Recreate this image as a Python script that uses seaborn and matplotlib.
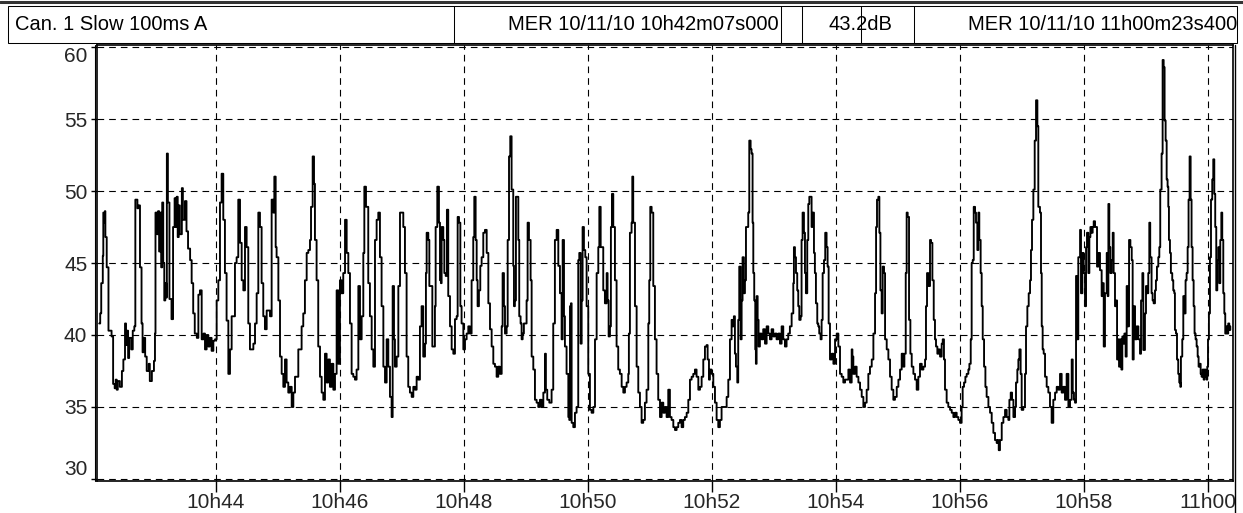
import numpy as np
import pandas as pd
import matplotlib
matplotlib.use("Agg")
import matplotlib.pyplot as plt
import seaborn as sns
from matplotlib import font_manager as fm
from matplotlib.patches import Rectangle

# ---------------- data (seconds since 10h42m00s, level in dB(A)) ----------------
t_sec = [
    7, 8, 9, 10.5, 11, 12, 12.5, 13, 14.3, 16, 19, 20.5, 22, 23, 24, 25, 27, 29, 30.4, 32, 33, 34, 35, 36, 38, 39.5, 41,
    42, 44, 45, 46.5, 48, 49, 50, 51.5, 53, 55, 56, 58, 60, 61, 61.5, 63, 64, 65, 66, 67, 68, 69, 70, 71, 72, 72.5, 73.5,
    75, 77, 78.5, 80, 81, 82, 83, 84, 85, 87, 88, 90, 91.5, 93, 95, 96.5, 98, 99.5,
    101.5, 103, 104.5, 106.2, 108, 109.4, 111, 112.6, 114, 115.8, 117.5, 119.1, 120.7, 122.3, 123.9, 125.5, 127.1, 128.7,
    130.3, 132, 133.6, 135.2, 138.4, 140, 141.6, 143.3, 144.9, 146.5, 148.1, 149.7, 151.3, 152.9, 156.2, 157.8, 159.4, 161,
    162.6, 164.2, 165.8, 167.4, 169.1, 172.3, 173.9, 175.5, 176.5, 177.8, 178.7, 180.4, 182, 183.6, 185.2, 186.8, 188.4,
    190, 191.6, 193.3, 194.9, 196.5, 199.7,
    202.9, 204.5, 206.1, 207.8, 209.4, 211, 212, 213.6, 214.9, 215.8, 217.4, 219, 220.7, 222.3, 223.9, 225.5, 227.1, 228.7,
    230.3, 232, 233.6, 235.2, 236.8, 238.4, 240, 241.6, 243.2, 244.9, 246.5, 248.1, 249.7, 251.3, 252.9, 254.5, 256.1,
    257.8, 259.4, 261, 262.6, 263.6, 265.2, 267.4, 269, 270.7, 272.3, 273.9, 275.5, 277.1, 278.7, 280.3, 282, 283.6, 285.2,
    286.8, 288.4, 290, 291, 292.3, 293.2, 294.9, 296.5, 298.1, 299.7, 301.3, 302.9, 304.5, 306.1,
    307.7, 309.4, 311, 312.6, 314.2, 315.8, 317.4, 319, 320.6, 322.3, 323.2, 323.9, 325.5, 326.5, 328.1, 329.4, 331.3,
    331.9, 332.6, 334.2, 335.8, 336.8, 337.7, 338.4, 340, 341, 342.3, 343.5, 344.8, 346.5, 348.1, 349.7, 351.3, 352.9,
    353.9, 355.2, 356.5, 357.7, 359.4, 361, 362.6, 364.2, 365.8, 367.4, 369, 370, 371.3, 372.3, 373.2, 374.5, 375.8, 377.1,
    378.7, 380.3, 382, 383.6, 385.2, 386.8, 388.4, 390, 391.6, 393.2, 394.8, 396.5, 397.4, 398.7, 399.7, 401.3, 402.3,
    403.6, 404.8, 406.1, 407.7,
    408.4, 409.3, 410.3, 411.6, 412.6, 413.5, 414.8, 415.8, 416.8, 418, 419, 420.6, 421.6, 422.9, 424.5, 425.5, 427.1,
    428.7, 430.3, 431.9, 433.5, 435.1, 436.8, 438.4, 439.3, 440.6, 442.6, 444.8, 446.4, 448, 449.7, 451.3, 452.9, 454.5,
    455.5, 456.8, 457.7, 459.3, 461, 461.9, 462.6, 463.5, 464.2, 465.8, 467.4, 469, 470.6, 471.6, 472.9, 473.9, 474.8,
    476.1, 477.4, 478.7, 480.3, 481.9, 483.5, 485.2, 486.8, 488.4, 490, 491, 492.3, 493.2, 494.8, 496.4, 498.1, 499, 500,
    501.3, 502.2, 503.2, 504.5, 506.1, 507.7, 509.3,
    510.9, 512.6, 514.2, 515.8, 517.4, 519, 519.6, 520.6, 522.2, 522.9, 523.8, 525.5, 527.1, 528.7, 530.3, 531.9, 533.5,
    535.1, 536.7, 538.4, 539.3, 540.3, 541.6, 543.2, 544.8, 546.4, 548, 549.7, 551.3, 552.9, 554.5, 556.1, 557.7, 559.3,
    560.9, 562.6, 564.2, 565.8, 567.4, 569, 570.6, 572.2, 573.8, 575.5, 577.1, 578.7, 580.3, 581.9, 583.5, 585.1, 586.8,
    588.4, 590, 591.6, 593.2, 594.8, 595.8, 597.1, 598, 599.7, 601.3, 602.9, 604.5, 606.1, 607.7, 609.3,
    612.5, 614.2, 615.8, 617.4, 619, 620, 621.2, 622.2, 623.2, 624.5, 625.4, 626.4, 627.7, 628.7, 629.6, 630.9, 631.9,
    632.9, 634.2, 635.1, 636.1, 637.4, 638.3, 639.3, 640, 640.9, 641.9, 642.5, 643.2, 644.2, 645.1, 646.4, 648, 649.6,
    651.3, 652.9, 654.5, 656.1, 657.7, 659.3, 660.9, 662.5, 664.2, 665.8, 667.4, 669, 670.6, 672.2, 673.8, 675.4, 677.1,
    678.7, 679.3, 680.3, 681.3, 682.5, 683.5, 684.5, 685.8, 686.7, 687.7, 689, 690, 690.9, 692.2, 693.2, 694.2, 695.4,
    696.4, 697.4, 698.7, 699.6, 700.6, 701.9, 702.9, 703.8, 705.1, 706.1, 707.1, 708.4, 709.6, 710.9, 711.9, 712.9,
    714.2, 715.9, 717.5, 719.1, 720.7, 722.3, 723.9, 725.5, 727.1, 728.8, 730.4, 732, 733.6, 735.2, 735.9, 736.8, 738.4,
    740, 741.7, 743.3, 744.9, 746.5, 748.1, 749.7, 751.3, 752.9, 754.6, 756.2, 757.8, 758.8, 759.7, 761, 762, 763, 764.2,
    765.2, 766.5, 767.5, 769.1, 770.7, 772.3, 773.9, 775.5, 777.1, 778.8, 780.4, 782, 783.6, 785.2, 786.2, 787.5, 788.4,
    789.4, 790.7, 792, 793.3, 794.9, 796.5, 798.1, 799.7, 801.3, 803, 804.6, 806.2, 807.1, 808.1, 809.4, 811, 812, 813.3,
    814.6,
    815.8, 816.8, 818.1, 819.4, 820.7, 822.3, 823.3, 824.5, 825.5, 827.1, 828.7, 830.4, 832, 833.6, 835.2, 836.8, 838.4,
    840, 841.6, 842.6, 843.9, 845.2, 846.5, 848.1, 849.1, 850.4, 851.3, 852.3, 853.3, 854.6, 855.5, 856.8, 857.8, 858.7,
    860, 861, 862, 863.3, 864.6, 865.8, 867.5, 869.1, 870.7, 872.3, 873.9, 875.5, 876.5, 877.5, 878.7, 880.4, 882, 883.6,
    885.2, 886.8, 887.8, 889.1, 890.4, 891.7, 893.3, 894.2, 895.5, 896.5, 897.5, 898.7, 899.7, 901.3, 902.9, 903.9, 905.2,
    906.5, 907.8, 908.7, 909.7, 911, 912.3, 913.6, 914.9, 915.8,
    917.4, 918.4, 919.1, 920, 921, 922.3, 923.9, 925.5, 927.1, 928.7, 930.3, 932, 933.6, 935.2, 936.8, 938.4, 940, 941.6,
    943.2, 944.9, 946.5, 948.1, 949.1, 950.3, 951.3, 952.3, 953.2, 954.5, 956.2, 957.1, 958.4, 959.7, 961, 962, 962.9,
    964.2, 965.2, 966.2, 967.4, 968.4, 969.4, 970.7, 971.6, 972.6, 973.9, 975.5, 977.1, 978.1, 979.1, 980.3, 982, 982.9,
    983.6, 984.5, 985.5, 986.8, 987.8, 988.7, 990, 991, 992, 992.9, 993.9, 995.2, 996.2, 997.1, 998.1, 999.1, 1000.3,
    1001.3, 1002.3, 1003.6, 1004.9, 1006.2, 1007.1, 1008.1, 1009.4, 1011, 1012.6, 1014.2, 1015.2, 1016.5, 1017.4,
    1019, 1020, 1020.9, 1022.2, 1023.2, 1024.1, 1025.4, 1026.4, 1027.4, 1028.7, 1029.6, 1030.6, 1031.9, 1032.9, 1033.8,
    1035.1, 1036.1, 1037.1, 1038, 1039, 1040, 1040.9, 1041.6, 1042.2, 1043.2, 1044.1, 1045.4, 1046.4, 1047.4, 1048, 1049,
    1050, 1051.2, 1052.2, 1053.2, 1053.8, 1055.1, 1056.1, 1057, 1058.3, 1059.3, 1060.3, 1061.2, 1062.2, 1063.2, 1064.1,
    1065.1, 1066.1, 1067, 1068, 1069, 1070, 1070.9, 1071.9, 1072.9, 1073.8, 1074.8, 1075.8, 1076.7, 1077.7, 1078.7,
    1079.3, 1080, 1080.9, 1081.9, 1082.9, 1084.1, 1085.1, 1086.1, 1087, 1088, 1089, 1090, 1090.9, 1091.9, 1092.9, 1093.8,
    1094.8, 1095.8, 1096.7, 1097.7, 1098.7, 1099.6, 1100.6, 1101.6,
]
level_db = [
    40.8, 41.5, 43.6, 45.5, 48.5, 47.8, 48.6, 46.8, 44.7, 40.3, 39.9, 36.6, 36.3, 36.9, 36.2, 36.8, 36.4, 37.5, 38.3, 40.8,
    39.3, 40.3, 38.4, 39.8, 39.0, 40.3, 40.6, 49.4, 48.8, 49.0, 44.7, 40.8, 38.8, 39.8, 38.5, 37.5, 38.0, 36.8, 37.5, 38.2,
    40.1, 48.5, 47.0, 48.6, 45.8, 48.5, 44.7, 49.2, 45.0, 42.4, 43.6, 42.6, 52.6, 49.2, 42.5, 41.1, 47.5, 49.5, 47.5, 49.6,
    46.8, 49.0, 47.0, 50.2, 48.0, 49.3, 47.2, 46.0, 45.2, 43.6, 41.5, 40.1,
    39.8, 42.8, 43.1, 39.7, 40.1, 39.0, 40.0, 39.2, 39.8, 38.9, 39.6, 39.7, 42.4, 43.8, 49.2, 51.2, 48.0, 44.3, 41.0, 37.3,
    39.0, 41.3, 45.0, 45.4, 49.4, 46.4, 43.8, 43.1, 47.5, 46.1, 40.8, 39.0, 39.4, 40.8, 42.9, 48.5, 47.5, 43.6, 41.3, 40.4,
    41.7, 41.3, 49.4, 48.5, 51.0, 46.1, 45.4, 42.4, 38.5, 37.3, 36.4, 38.3, 36.7, 36.0, 36.4, 35.0, 36.0, 37.1, 39.0,
    40.6, 41.5, 43.8, 45.7, 45.9, 46.6, 48.9, 52.4, 50.5, 46.6, 43.8, 39.2, 37.1, 36.0, 35.5, 38.7, 36.7, 38.3, 36.4, 38.0,
    36.2, 37.3, 43.1, 38.0, 43.8, 42.9, 44.3, 48.0, 45.7, 44.3, 40.8, 37.3, 37.1, 36.9, 37.6, 43.4, 39.7, 41.3, 45.7, 50.3,
    48.9, 43.6, 41.3, 39.0, 37.8, 46.6, 48.0, 48.5, 45.4, 42.0, 37.8, 36.7, 39.7, 37.8, 35.7, 34.3, 43.4, 39.7, 37.8, 38.5,
    43.4, 48.5, 48.5, 47.5, 44.3, 38.5, 36.4,
    36.0, 35.7, 36.4, 36.2, 37.1, 36.9, 40.6, 42.0, 38.5, 39.4, 44.3, 47.1, 46.6, 43.4, 43.4, 39.2, 39.2, 42.0, 47.5, 50.3,
    47.8, 43.8, 43.6, 47.5, 46.6, 44.3, 44.1, 48.7, 42.7, 40.6, 39.0, 38.7, 41.1, 41.3, 48.2, 47.8, 42.0, 40.8, 39.0, 39.7,
    40.1, 40.6, 40.1, 43.8, 46.8, 49.6, 46.6, 43.8, 42.0, 43.1, 44.8, 45.4, 47.1, 47.3, 45.7, 42.2, 40.4, 39.2, 38.0, 37.8,
    37.1, 37.8, 37.3, 40.6, 44.3, 42.0, 40.1, 40.6, 46.6, 52.4, 53.8, 50.1, 44.8,
    42.0, 42.4, 49.6, 49.6, 46.6, 41.3, 40.8, 39.7, 40.1, 40.8, 40.8, 42.4, 47.8, 46.6, 43.8, 38.5, 37.6, 35.5, 35.3, 35.0,
    35.5, 35.0, 36.0, 38.7, 36.2, 35.5, 35.3, 36.2, 40.8, 46.6, 47.3, 44.8, 42.9, 39.7, 46.6, 41.3, 39.2, 37.3, 34.3, 34.1,
    42.0, 42.2, 33.9, 33.6, 34.6, 35.0, 45.2, 45.7, 39.4, 42.4, 47.5, 45.9, 45.4, 42.0, 37.3, 34.8, 34.6, 35.0, 39.7, 44.3,
    46.1, 48.9, 46.1, 46.1, 43.1, 42.2, 44.3, 42.4, 39.9, 40.6, 47.5, 49.8, 47.5, 43.8, 39.2, 37.6,
    37.3, 36.4, 36.0, 36.4, 36.7, 37.3, 40.1, 47.1, 47.8, 51.0, 47.8, 42.0, 37.8, 36.0, 35.0, 33.9, 34.1, 35.3, 36.2, 40.8,
    43.8, 48.9, 48.5, 43.4, 39.7, 37.3, 35.5, 34.3, 35.3, 34.6, 35.0, 34.3, 36.2, 34.3, 34.1, 33.6, 33.4, 33.6, 33.9, 34.1,
    33.6, 34.1, 34.3, 34.6, 35.5, 36.9, 37.1, 37.3, 37.6, 37.1, 36.2, 36.4, 37.1, 38.3, 39.2, 39.3, 38.3, 36.9, 37.6, 37.3,
    36.4, 35.3, 34.1, 33.6, 34.1, 35.0,
    35.0, 35.7, 36.9, 39.7, 41.05, 40.6, 41.3, 38.7, 37.8, 36.7, 41.05, 44.75, 39.7, 42.4, 45.4, 42.9, 43.8, 47.5, 47.5,
    48.5, 53.5, 52.9, 52.6, 47.8, 44.3, 42.4, 39.0, 38.0, 42.7, 41.05, 39.2, 40.1, 39.7, 40.4, 39.4, 40.6, 40.1, 39.7, 40.4,
    39.9, 40.1, 39.7, 40.1, 39.4, 40.6, 39.7, 39.2, 39.7, 40.1, 40.6, 41.5, 43.6, 46.1, 45.4, 44.3, 43.1, 42.0, 41.05, 41.3,
    46.6, 48.5, 47.1, 44.3, 42.9, 46.6, 49.1, 49.6, 49.6, 47.5, 48.5, 45.7, 44.3, 42.2, 40.8, 40.6, 40.1, 39.7, 41.05, 44.3,
    45.2, 47.1, 46.1, 44.75, 40.8,
    38.3, 38.7, 38.0, 39.7, 40.1, 39.2, 37.3, 37.1, 36.7, 36.9, 36.9, 37.6, 36.7, 39.0, 38.5, 37.3, 37.8, 37.1, 36.7, 36.2,
    35.7, 35.0, 35.3, 36.2, 37.3, 37.8, 38.3, 40.1, 42.9, 47.5, 49.4, 49.6, 47.1, 43.1, 41.5, 44.75, 44.3, 39.7, 39.0, 38.3,
    37.1, 36.2, 35.5, 35.7, 36.4, 36.9, 37.6, 38.7, 37.8, 38.7, 44.3, 48.5, 48.2, 41.05, 38.7, 37.8, 37.3, 36.9, 36.2, 37.1,
    38.0, 37.6, 37.8, 38.3, 42.0, 44.3, 43.4, 46.6, 46.4, 43.8, 41.05,
    39.7, 39.2, 38.7, 39.0, 38.5, 39.4, 39.7, 38.3, 36.2, 35.3, 35.0, 34.8, 34.6, 34.3, 34.6, 34.3, 34.1, 33.9, 35.0, 36.4,
    36.7, 37.1, 37.3, 37.6, 38.0, 39.7, 45.0, 45.2, 48.9, 48.5, 47.8, 45.9, 48.5, 46.6, 44.3, 42.0, 39.7, 37.8, 36.4, 35.7,
    35.0, 34.6, 33.9, 33.2, 32.7, 32.5, 32.7, 32.0, 32.7, 33.9, 34.3, 34.8, 34.3, 34.1, 35.5, 36.0, 35.5, 34.3, 35.0, 36.7,
    37.6, 38.3, 39.0, 37.3, 34.8, 35.0, 37.3, 40.6, 42.0, 42.9, 43.8, 45.9, 48.0, 50.1, 53.5, 56.3, 54.5, 48.9,
    48.5, 44.3, 40.6, 39.0, 38.7, 37.1, 36.4, 36.0, 35.0, 33.9, 35.5, 36.0, 36.4, 36.2, 37.3, 36.0, 36.4, 35.5, 37.3, 35.0,
    35.5, 38.3, 36.0, 35.5, 35.3, 44.1, 39.7, 45.4, 47.3, 42.9, 45.7, 44.3, 42.0, 46.1, 47.1, 44.3, 46.8, 47.5, 47.1, 47.5,
    47.9, 47.5, 47.5, 44.75, 45.7, 44.5, 42.7, 43.6, 39.2, 42.9, 45.7, 42.7, 49.1, 46.1, 44.3, 45.2, 47.1, 44.3, 42.0, 42.4,
    38.3, 39.7, 37.8, 39.7, 37.6, 39.9, 39.4, 40.1, 38.5, 43.4, 40.6, 46.6, 46.1, 45.2, 38.3, 42.0, 39.7, 40.6, 39.7, 38.7,
    42.4, 44.3, 38.96,
    41.5, 43.4, 42.9, 44.3, 47.8, 45.4, 42.9, 42.4, 42.2, 43.1, 43.8, 44.75, 45.4, 46.1, 50.1, 52.6, 59.1, 58.6, 54.9, 53.5,
    50.8, 50.3, 48.9, 46.6, 45.7, 44.3, 43.8, 43.1, 42.9, 40.35, 40.1, 38.3, 37.3, 36.7, 36.4, 38.5, 39.7, 42.7, 41.5, 43.8,
    44.3, 46.1, 49.4, 52.4, 49.4, 46.1, 43.8, 42.0, 40.1, 39.7, 39.2, 38.5, 37.8, 38.0, 37.3, 37.1, 37.6, 36.9, 37.6, 37.1,
    36.9, 37.8, 39.7, 41.5, 45.4, 49.4, 50.8, 52.2, 49.8, 47.5, 43.1, 45.2, 46.1, 43.6, 46.6, 48.5, 46.6, 42.9, 41.5, 40.1,
    40.6, 40.1, 40.8, 40.35, 40.6,
]

x_tick_sec = [120, 240, 360, 480, 600, 720, 840, 960, 1080]
x_tick_labels = ["10h44", "10h46", "10h48", "10h50", "10h52", "10h54", "10h56", "10h58", "11h00"]
y_ticks = [30, 35, 40, 45, 50, 55, 60]

header_channel = "Can. 1 Slow 100ms A"
header_start = "MER 10/11/10 10h42m07s000"
header_value = "43.2dB"
header_end = "MER 10/11/10 11h00m23s400"

# ---------------- style ----------------
sns.set_theme(style="white")
available = {f.name for f in fm.fontManager.ttflist}
fam = [f for f in ["Liberation Sans Narrow", "Liberation Sans", "DejaVu Sans"] if f in available]
plt.rcParams["font.family"] = fam
narrow = "Liberation Sans Narrow" in available
FS = 16.5 if narrow else 15
FS_HEAD = 16.5 if narrow else 14.5

W, H = 1243, 513
fig = plt.figure(figsize=(W / 100, H / 100), dpi=100)
fig.patch.set_facecolor("white")


def fx(px):
    return px / W


def fy(py):
    return 1 - py / H


ax = fig.add_axes([fx(97), fy(481), fx(1233) - fx(97), fy(45) - fy(481)])
df = pd.DataFrame({"t": t_sec, "L": level_db})
sns.lineplot(data=df, x="t", y="L", ax=ax, color="black", linewidth=1.35,
             drawstyle="steps-post", estimator=None, sort=False, legend=False)

ax.set_xlim(4.9, 1104.2)
ax.set_ylim(29.86, 60.14)
ax.set_xticks(x_tick_sec, labels=x_tick_labels)
ax.set_yticks(y_ticks, labels=[str(v) for v in y_ticks])
ax.set_xlabel("")
ax.set_ylabel("")
ax.grid(True, color="black", linestyle=(0, (6, 4.5)), linewidth=0.8)
for s in ax.spines.values():
    s.set_color("black")
    s.set_linewidth(1.2)
ax.tick_params(axis="y", length=4, width=1, color="black", labelsize=FS, pad=3, left=True)
ax.tick_params(axis="x", length=8, width=1, color="black", labelsize=FS, pad=1, bottom=True)
ylabels = ax.get_yticklabels()
ylabels[0].set_va("bottom")
ylabels[-1].set_va("top")

# ---------------- header / frame overlay (pixel coordinates) ----------------
ov = fig.add_axes([0, 0, 1, 1], zorder=10)
ov.set_xlim(0, W)
ov.set_ylim(H, 0)
ov.axis("off")
ov.patch.set_alpha(0)

lw_px = 0.75
ov.plot([0, W], [1.5, 1.5], color="#333333", lw=2.2)
ov.add_patch(Rectangle((8, 6), 1229, 37, fill=False, ec="black", lw=lw_px))
for xv in [454, 781, 802, 861, 914]:
    ov.plot([xv, xv], [6, 43], color="black", lw=lw_px)
# left/right borders extending to bottom
ov.plot([1235.5, 1235.5], [45, H], color="black", lw=1.0)
ov.plot([95.0, 95.0], [45, 481], color="black", lw=0.8)

ov.text(15, 25, header_channel, fontsize=FS_HEAD, va="center", ha="left", color="black")
ov.text(779, 25, header_start, fontsize=FS_HEAD, va="center", ha="right", color="black")
ov.text(829, 25, header_value, fontsize=FS_HEAD, va="center", ha="left", color="black")
ov.text(1237, 25, header_end, fontsize=FS_HEAD, va="center", ha="right", color="black")

fig.savefig("out.png", dpi=100, facecolor="white")
